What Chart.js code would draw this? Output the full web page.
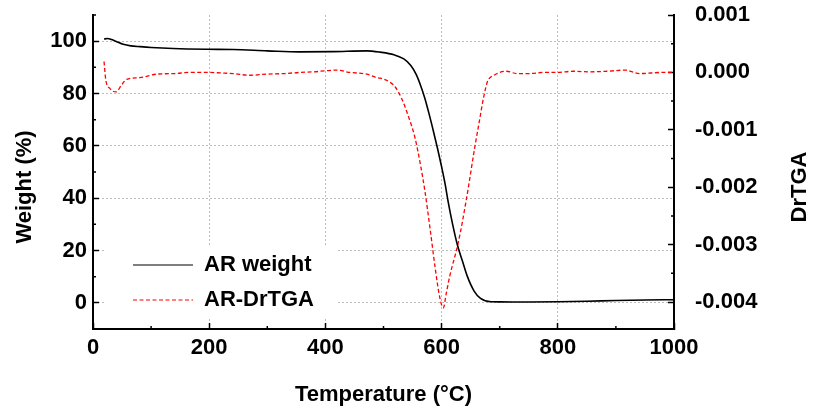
<!DOCTYPE html>
<html>
<head>
<meta charset="utf-8">
<script src="https://cdn.jsdelivr.net/npm/chart.js@4.4.1/dist/chart.umd.min.js"></script>
<style>
  html, body { margin: 0; padding: 0; background: #fff; }
  #wrap { width: 813px; height: 414px; position: relative; }
</style>
</head>
<body>
<div id="wrap"><canvas id="tga"></canvas></div>
<script>
// TGA weight curve (temperature in °C, weight in %)
const weightTemp = [19, 25, 32, 40, 52, 65, 81, 100, 138, 196, 241, 300, 356, 413, 471, 494, 518, 535, 547, 556, 564, 571, 578, 586, 593, 600, 606, 611, 619, 627, 636, 644, 656, 667, 685, 700, 750, 800, 850, 900, 950, 1000];
const weightPct  = [100.8, 101.0, 100.6, 99.9, 98.8, 98.2, 97.9, 97.6, 97.2, 96.9, 96.8, 96.3, 95.9, 96.0, 96.3, 95.8, 94.8, 93.2, 90.7, 87.4, 83.0, 78.3, 72.6, 65.5, 59.0, 52.0, 45.5, 39.0, 30.0, 22.3, 15.9, 10.3, 4.5, 1.7, 0.4, 0.35, 0.3, 0.4, 0.6, 0.9, 1.1, 1.2];

// derivative curve (temperature in °C, DrTGA)
const dtgaTemp = [19, 22, 29, 40, 49, 58, 81, 110, 140, 167, 196, 220, 241, 270, 299, 330, 356, 380, 402, 419, 442, 471, 488, 494, 511, 520, 531, 543, 554, 564, 571, 580, 589, 597, 603, 608, 614, 629, 643, 657, 665, 672, 679, 690, 712, 729, 752, 775, 798, 827, 855, 884, 916, 941, 960, 981, 1000];
const dtgaVals = [0.00019, -0.00013, -0.00028, -0.00034, -0.00022, -0.00012, -0.00009, -0.00003, -0.00002, 0.0, 0.0, -0.00001, -0.00002, -0.00005, -0.00003, -0.00002, 0.0, 0.00001, 0.00003, 0.00004, 0.0, -0.00003, -0.00009, -0.0001, -0.00017, -0.00025, -0.00045, -0.00077, -0.00113, -0.00163, -0.00205, -0.00271, -0.00341, -0.00393, -0.0041, -0.00385, -0.00355, -0.00295, -0.00219, -0.00131, -0.00085, -0.00045, -0.00016, -0.00005, 0.00002, -0.00002, -0.00002, 0.0, 0.0, 0.00002, 0.00001, 0.00002, 0.00004, -0.00002, -0.00001, 0.0, 0.0];

// axis ticks
const xTicks = [0, 200, 400, 600, 800, 1000];
const xMinorTicks = [100, 300, 500, 700, 900];
const yTicks = [0, 20, 40, 60, 80, 100];
const yMinorTicks = [10, 30, 50, 70, 90, 110];
const y2Ticks = [-0.004, -0.003, -0.002, -0.001, 0, 0.001];
const y2MinorTicks = [0.0005, -0.0005, -0.0015, -0.0025, -0.0035];

const FONT = "'Liberation Sans', Arial, sans-serif";
const GRID = '#bdbdbd';

Chart.defaults.font.family = FONT;
Chart.defaults.font.size = 22;
Chart.defaults.font.weight = 'bold';
Chart.defaults.color = '#000';

const pairs = (xs, ys) => xs.map((x, i) => ({ x, y: ys[i] }));

// fixed axis box sizes so the plot area lands where the original is
function fixSize(prop, size) {
  return s => {
    s[prop] = size;
    s.paddingTop = s.paddingBottom = s.paddingLeft = s.paddingRight = 0;
  };
}

// small tick marks between the labelled ones
const minorTicks = {
  id: 'minorTicks',
  afterDraw(chart) {
    const { ctx, scales: { x, y, y2 } } = chart;
    ctx.save();
    ctx.strokeStyle = '#000';
    ctx.lineWidth = 1.5;
    ctx.beginPath();
    xMinorTicks.forEach(v => {
      const px = x.getPixelForValue(v);
      ctx.moveTo(px, x.top); ctx.lineTo(px, x.top - 3);
    });
    yMinorTicks.forEach(v => {
      const py = y.getPixelForValue(v);
      ctx.moveTo(y.right, py); ctx.lineTo(y.right + 3, py);
    });
    y2MinorTicks.forEach(v => {
      const py = y2.getPixelForValue(v);
      ctx.moveTo(y2.left, py); ctx.lineTo(y2.left - 3, py);
    });
    ctx.stroke();
    ctx.restore();
  }
};

// both y titles read bottom-to-top
const axisTitles = {
  id: 'axisTitles',
  afterDraw(chart) {
    const { ctx, chartArea } = chart;
    ctx.save();
    ctx.font = 'bold 22px ' + FONT;
    ctx.fillStyle = '#000';
    ctx.textAlign = 'center';
    ctx.textBaseline = 'middle';
    [[25, 'Weight (%)'], [chart.width - 13, 'DrTGA']].forEach(([x, text]) => {
      ctx.save();
      ctx.translate(x, chartArea.top + 172);
      ctx.rotate(-Math.PI / 2);
      ctx.fillText(text, 0, 0);
      ctx.restore();
    });
    ctx.restore();
  }
};

// legend sits low-left inside the plot, on a white patch
const legendBox = {
  id: 'legendBox',
  afterUpdate(chart) {
    const lg = chart.legend, ca = chart.chartArea;
    lg.left = ca.left + 27;
    lg.right = lg.left + lg.width;
    lg.top = ca.top + 226;
    lg.bottom = chart.height;
  },
  beforeDatasetsDraw(chart) {
    const { ctx, legend: lg } = chart;
    ctx.save();
    ctx.fillStyle = '#fff';
    ctx.fillRect(lg.left - 15, lg.top + 4, 233, 73);
    ctx.restore();
    lg.draw();
  }
};

new Chart(document.getElementById('tga'), {
  type: 'line',
  data: {
    datasets: [
      {
        label: 'AR weight',
        data: pairs(weightTemp, weightPct),
        yAxisID: 'y',
        borderColor: '#000',
        borderWidth: 1.6,
        pointRadius: 0,
        cubicInterpolationMode: 'monotone',
      },
      {
        label: 'AR-DrTGA',
        data: pairs(dtgaTemp, dtgaVals),
        yAxisID: 'y2',
        borderColor: '#ff0000',
        borderWidth: 1.3,
        borderDash: [4, 2.5],
        pointRadius: 0,
        cubicInterpolationMode: 'monotone',
      }
    ]
  },
  options: {
    responsive: true,
    maintainAspectRatio: false,
    animation: false,
    layout: { padding: { top: 15, left: 0, right: 0, bottom: 0 } },
    plugins: {
      tooltip: { enabled: false },
      legend: {
        position: 'chartArea',
        align: 'start',
        labels: {
          usePointStyle: true,
          pointStyle: 'line',
          pointStyleWidth: 60,
          padding: 13,
          color: '#000',
          font: { size: 22, weight: 'bold' },
          // keep the dataset's dash pattern in the legend sample
          generateLabels: chart => Chart.defaults.plugins.legend.labels.generateLabels(chart).map(item => {
            const ds = chart.data.datasets[item.datasetIndex];
            return Object.assign(item, { lineDash: ds.borderDash || [], lineWidth: 1.2, strokeStyle: ds.borderColor });
          }),
        }
      }
    },
    scales: {
      x: {
        type: 'linear',
        position: 'bottom',
        min: 0,
        max: 1000,
        afterBuildTicks: s => { s.ticks = xTicks.map(v => ({ value: v })); },
        afterFit: fixSize('height', 85),
        ticks: { padding: 12, maxRotation: 0, autoSkip: false, callback: v => String(v) },
        grid: { color: GRID, lineWidth: 1, tickLength: -6, tickColor: '#000', tickWidth: 1.5 },
        border: { color: '#000', width: 2, dash: [2, 2] },
        title: { display: true, text: 'Temperature (°C)', padding: { top: 0, bottom: 6 } },
      },
      y: {
        type: 'linear',
        position: 'left',
        min: -10,
        max: 110,
        afterBuildTicks: s => { s.ticks = yTicks.map(v => ({ value: v })); },
        afterFit: fixSize('width', 93),
        ticks: { padding: 12 },
        grid: { color: GRID, lineWidth: 1, tickLength: -6, tickColor: '#000', tickWidth: 1.5 },
        border: { color: '#000', width: 2, dash: [2, 2] },
      },
      y2: {
        type: 'linear',
        position: 'right',
        min: -0.00447,
        max: 0.001,
        afterBuildTicks: s => { s.ticks = y2Ticks.map(v => ({ value: v })); },
        afterFit: fixSize('width', 139),
        ticks: { padding: 27, callback: v => v.toFixed(3) },
        grid: { drawOnChartArea: false, tickLength: -6, tickColor: '#000', tickWidth: 1.5 },
        border: { color: '#000', width: 2 },
      }
    }
  },
  plugins: [legendBox, minorTicks, axisTitles]
});
</script>
</body>
</html>
